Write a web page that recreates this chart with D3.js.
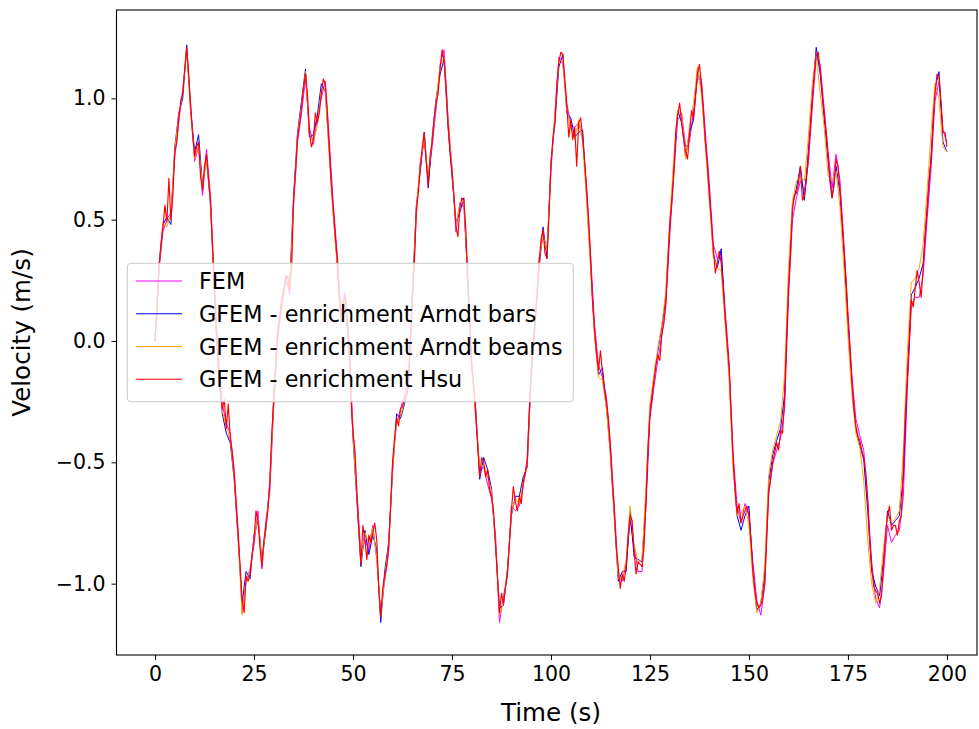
<!DOCTYPE html>
<html>
<head>
<meta charset="utf-8">
<script src="https://cdn.jsdelivr.net/npm/d3@7"></script>
<style>
  html, body { margin: 0; padding: 0; background: #ffffff; }
  svg { display: block; }
  text { font-family: "DejaVu Sans", sans-serif; fill: #000; }
</style>
</head>
<body>
<div id="chart"></div>
<script>
// ---- data ----
const timeHalf = d3.range(0, 200.25, 0.5);   // 0, 0.5, ... 200
const timeOne = d3.range(0, 201, 1);         // 0, 1, ... 200

const hsu = [
0.00,0.12,0.30,0.40,0.47,0.56,0.49,0.67,0.50,0.60,0.78,0.82,0.92,0.99,1.02,1.12,1.21,1.10,0.96,0.85,
0.76,0.80,0.82,0.68,0.62,0.72,0.77,0.67,0.58,0.40,0.22,0.02,-0.10,-0.20,-0.28,-0.24,-0.36,-0.26,-0.40,-0.46,
-0.55,-0.68,-0.80,-0.93,-1.07,-1.12,-0.97,-0.99,-0.96,-0.88,-0.82,-0.70,-0.74,-0.85,-0.93,-0.82,-0.76,-0.70,-0.58,-0.38,
-0.24,-0.08,0.03,0.10,0.16,0.20,0.25,0.27,0.21,0.30,0.58,0.70,0.84,0.89,0.96,1.04,1.10,1.02,0.86,0.80,
0.83,0.94,0.90,0.94,1.02,1.08,1.06,0.95,0.80,0.65,0.55,0.44,0.34,0.18,0.10,0.16,0.18,0.12,-0.02,-0.24,
-0.38,-0.45,-0.64,-0.78,-0.92,-0.76,-0.82,-0.90,-0.80,-0.83,-0.79,-0.75,-0.82,-1.02,-1.14,-1.02,-0.97,-0.93,-0.85,-0.68,
-0.50,-0.40,-0.32,-0.35,-0.28,-0.27,-0.24,-0.22,-0.17,0.00,0.18,0.32,0.54,0.61,0.72,0.80,0.86,0.74,0.64,0.77,
0.82,0.92,0.98,1.02,1.12,1.20,1.16,1.05,0.90,0.78,0.70,0.60,0.47,0.43,0.55,0.59,0.58,0.46,0.25,0.08,
-0.10,-0.18,-0.30,-0.43,-0.56,-0.48,-0.50,-0.56,-0.53,-0.61,-0.64,-0.70,-0.84,-0.98,-1.12,-1.04,-1.08,-1.02,-0.96,-0.84,
-0.70,-0.60,-0.66,-0.70,-0.64,-0.67,-0.58,-0.55,-0.50,-0.30,-0.14,-0.02,0.08,0.19,0.32,0.42,0.46,0.36,0.34,0.52,
0.72,0.84,0.90,1.06,1.15,1.19,1.18,1.08,0.97,0.84,0.91,0.83,0.88,0.72,0.90,0.92,0.84,0.74,0.62,0.50,
0.34,0.16,0.05,-0.05,-0.12,-0.04,-0.13,-0.20,-0.25,-0.32,-0.44,-0.58,-0.70,-0.85,-0.93,-1.02,-0.96,-0.99,-0.93,-0.80,
-0.72,-0.74,-0.87,-0.96,-0.91,-0.92,-0.93,-0.85,-0.66,-0.44,-0.30,-0.24,-0.17,-0.10,-0.06,-0.08,0.03,0.07,0.16,0.32,
0.48,0.57,0.68,0.86,0.93,0.98,0.90,0.84,0.78,0.75,0.86,0.95,0.92,1.00,1.10,1.14,1.06,0.95,0.82,0.73,
0.60,0.50,0.38,0.28,0.32,0.37,0.32,0.22,0.10,0.00,-0.11,-0.30,-0.48,-0.62,-0.71,-0.67,-0.75,-0.72,-0.70,-0.68,
-0.72,-0.82,-0.95,-1.03,-1.08,-1.10,-1.09,-1.06,-0.99,-0.80,-0.62,-0.56,-0.50,-0.46,-0.42,-0.45,-0.37,-0.38,-0.24,0.00,
0.22,0.36,0.54,0.60,0.61,0.65,0.72,0.58,0.60,0.66,0.76,0.88,0.99,1.10,1.18,1.19,1.12,1.02,0.94,0.86,
0.76,0.65,0.59,0.64,0.75,0.72,0.62,0.50,0.38,0.26,0.10,-0.03,-0.16,-0.28,-0.35,-0.39,-0.41,-0.45,-0.48,-0.54,
-0.65,-0.82,-0.93,-1.01,-1.03,-1.04,-1.08,-1.05,-0.92,-0.80,-0.72,-0.68,-0.78,-0.76,-0.76,-0.80,-0.74,-0.72,-0.52,-0.30,
-0.16,0.00,0.17,0.14,0.22,0.29,0.24,0.18,0.30,0.44,0.54,0.67,0.74,0.90,1.02,1.10,1.09,0.99,0.86,0.86,0.80];

const fem = [0.00,0.29,0.45,0.50,0.53,0.76,0.90,1.04,1.19,0.98,0.74,0.80,0.60,0.79,0.60,0.24,-0.08,-0.26,-0.34,-0.38,
-0.53,-0.78,-1.12,-0.99,-0.94,-0.84,-0.70,-0.94,-0.74,-0.62,-0.26,0.01,0.14,0.27,0.19,0.56,0.82,0.94,1.08,0.88,
0.81,0.92,1.00,1.07,0.83,0.57,0.36,0.12,0.20,0.00,-0.36,-0.62,-0.88,-0.82,-0.86,-0.76,-0.90,-1.12,-0.99,-0.87,
-0.50,-0.34,-0.28,-0.22,-0.15,0.16,0.52,0.74,0.82,0.67,0.80,0.96,1.14,1.20,0.92,0.72,0.45,0.57,0.55,0.27,
-0.08,-0.32,-0.53,-0.52,-0.59,-0.65,-0.80,-1.16,-1.05,-0.97,-0.68,-0.70,-0.68,-0.60,-0.48,-0.10,0.06,0.34,0.43,0.38,
0.70,0.94,1.17,1.14,0.98,0.89,0.88,0.90,0.83,0.64,0.36,0.07,-0.10,-0.15,-0.23,-0.42,-0.68,-0.97,-0.99,-0.91,
-0.74,-0.85,-0.95,-0.95,-0.68,-0.32,-0.19,-0.08,0.02,0.14,0.43,0.68,0.91,0.94,0.80,0.82,0.95,1.08,1.08,0.86,
0.65,0.40,0.34,0.36,0.13,-0.09,-0.46,-0.68,-0.75,-0.67,-0.72,-0.91,-1.07,-1.13,-1.01,-0.63,-0.51,-0.45,-0.40,-0.28,
0.18,0.50,0.59,0.66,0.62,0.73,0.96,1.17,1.14,0.96,0.78,0.63,0.77,0.66,0.40,0.12,-0.14,-0.32,-0.39,-0.45,
-0.66,-0.91,-1.06,-1.10,-0.96,-0.76,-0.83,-0.80,-0.78,-0.64,-0.20,0.14,0.18,0.18,0.27,0.50,0.71,0.99,1.07,0.87,
0.82];

const arndtBars = [0.00,0.31,0.48,0.51,0.48,0.80,0.94,1.00,1.22,0.95,0.78,0.85,0.64,0.76,0.56,0.20,-0.12,-0.30,-0.38,-0.42,
-0.57,-0.82,-1.08,-0.95,-0.98,-0.80,-0.74,-0.90,-0.78,-0.58,-0.22,0.05,0.17,0.24,0.23,0.60,0.86,0.99,1.12,0.84,
0.85,0.93,1.06,1.03,0.78,0.53,0.32,0.08,0.16,-0.04,-0.40,-0.66,-0.93,-0.78,-0.88,-0.80,-0.86,-1.16,-0.95,-0.83,
-0.54,-0.30,-0.32,-0.26,-0.19,0.20,0.56,0.70,0.86,0.63,0.84,1.00,1.10,1.16,0.88,0.68,0.49,0.53,0.59,0.23,
-0.12,-0.28,-0.57,-0.48,-0.53,-0.61,-0.84,-1.10,-1.09,-0.94,-0.72,-0.64,-0.64,-0.56,-0.52,-0.14,0.10,0.30,0.47,0.34,
0.74,0.90,1.13,1.18,0.94,0.92,0.84,0.86,0.87,0.60,0.32,0.03,-0.14,-0.11,-0.27,-0.46,-0.72,-0.99,-0.95,-0.95,
-0.70,-0.89,-0.90,-0.91,-0.64,-0.28,-0.15,-0.04,0.06,0.18,0.47,0.72,0.95,0.90,0.76,0.86,0.91,1.12,1.04,0.82,
0.61,0.36,0.30,0.38,0.09,-0.13,-0.50,-0.72,-0.78,-0.72,-0.68,-0.95,-1.11,-1.08,-0.97,-0.58,-0.47,-0.41,-0.36,-0.22,
0.24,0.56,0.63,0.72,0.58,0.78,1.01,1.21,1.10,0.92,0.74,0.59,0.72,0.61,0.36,0.08,-0.18,-0.36,-0.43,-0.49,
-0.70,-0.95,-1.01,-1.05,-0.90,-0.70,-0.76,-0.74,-0.72,-0.56,-0.14,0.19,0.22,0.26,0.32,0.55,0.76,1.04,1.11,0.82,
0.78];

const arndtBeams = [0.00,0.30,0.49,0.47,0.52,0.79,0.93,1.03,1.20,0.94,0.75,0.81,0.63,0.75,0.57,0.21,-0.11,-0.29,-0.35,-0.41,
-0.56,-0.81,-1.13,-0.98,-0.95,-0.81,-0.73,-0.91,-0.77,-0.59,-0.25,0.04,0.18,0.26,0.22,0.57,0.85,0.97,1.11,0.85,
0.82,0.89,1.03,1.04,0.76,0.52,0.31,0.09,0.17,-0.03,-0.39,-0.65,-0.91,-0.79,-0.83,-0.77,-0.89,-1.13,-0.98,-0.84,
-0.53,-0.33,-0.31,-0.25,-0.16,0.19,0.55,0.73,0.83,0.68,0.83,0.99,1.13,1.17,0.91,0.71,0.48,0.56,0.58,0.26,
-0.11,-0.31,-0.52,-0.51,-0.56,-0.62,-0.83,-1.13,-1.08,-0.95,-0.71,-0.65,-0.67,-0.59,-0.51,-0.13,0.09,0.33,0.44,0.37,
0.73,0.93,1.16,1.15,0.95,0.88,0.83,0.91,0.82,0.58,0.30,0.02,-0.15,-0.16,-0.28,-0.47,-0.73,-0.98,-0.98,-0.90,
-0.68,-0.84,-0.91,-0.90,-0.60,-0.26,-0.14,-0.03,0.07,0.20,0.50,0.75,0.95,0.93,0.75,0.88,0.98,1.13,1.02,0.80,
0.58,0.35,0.30,0.29,0.07,-0.16,-0.53,-0.72,-0.71,-0.68,-0.76,-0.98,-1.12,-1.08,-0.92,-0.55,-0.45,-0.39,-0.33,-0.14,
0.30,0.58,0.66,0.68,0.66,0.84,1.06,1.18,1.02,0.88,0.68,0.66,0.70,0.55,0.30,0.02,-0.22,-0.38,-0.44,-0.58,
-0.82,-1.00,-1.08,-1.02,-0.85,-0.72,-0.75,-0.73,-0.70,-0.45,-0.05,0.24,0.26,0.30,0.40,0.62,0.86,1.06,1.00,0.80,
0.78];

const seriesNames = ["FEM", "GFEM - enrichment Arndt bars", "GFEM - enrichment Arndt beams", "GFEM - enrichment Hsu"];
const seriesColors = ["#ff00ff", "#0000ff", "#ffa500", "#ff0000"];
const seriesValues = [fem, arndtBars, arndtBeams, hsu];
const seriesTimes = [timeOne, timeOne, timeOne, timeHalf];
const seriesWidths = [1.0, 1.0, 1.0, 1.15];

const xTicks = [0, 25, 50, 75, 100, 125, 150, 175, 200];
const yTicks = [-1.0, -0.5, 0.0, 0.5, 1.0];

// ---- layout ----
const W = 979, H = 729;
const L = 116.5, R = 977, T = 10, B = 655;

const svg = d3.select("#chart").append("svg")
  .attr("width", W).attr("height", H)
  .attr("viewBox", `0 0 ${W} ${H}`);

const x = d3.scaleLinear().domain([-9.73, 207.6]).range([L, R]);
const y = d3.scaleLinear().domain([-1.294, 1.364]).range([B, T]);

svg.append("clipPath").attr("id", "plotclip")
  .append("rect").attr("x", L).attr("y", T).attr("width", R - L).attr("height", B - T);

const plot = svg.append("g").attr("clip-path", "url(#plotclip)");
seriesValues.forEach((vals, k) => {
  const tArr = seriesTimes[k];
  const line = d3.line().x((d, i) => x(tArr[i])).y(d => y(d));
  plot.append("path")
    .datum(vals)
    .attr("fill", "none")
    .attr("stroke", seriesColors[k])
    .attr("stroke-width", seriesWidths[k])
    .attr("stroke-linejoin", "round")
    .attr("d", line);
});

// axes
const fmt = d => (d < 0 ? "\u2212" : "") + Math.abs(d).toFixed(1);
const xAxis = svg.append("g").attr("transform", `translate(0,${B})`)
  .call(d3.axisBottom(x).tickValues(xTicks).tickSize(5).tickPadding(6).tickFormat(d3.format("d")));
const yAxis = svg.append("g").attr("transform", `translate(${L},0)`)
  .call(d3.axisLeft(y).tickValues(yTicks).tickSize(5).tickPadding(6).tickFormat(fmt));
[xAxis, yAxis].forEach(a => {
  a.select(".domain").remove();
  a.selectAll(".tick line").attr("stroke", "#000").attr("stroke-width", 1);
  a.selectAll(".tick text").attr("font-family", "DejaVu Sans").attr("font-size", 20.5).attr("fill", "#000");
});
xAxis.selectAll(".tick text").attr("dy", "0.75em");

// frame
svg.append("rect").attr("x", L).attr("y", T).attr("width", R - L).attr("height", B - T)
  .attr("fill", "none").attr("stroke", "#000").attr("stroke-width", 1.1);

// axis labels
svg.append("text").attr("x", (155.5 + 946.5) / 2).attr("y", 721)
  .attr("text-anchor", "middle").attr("font-size", 24.6).text("Time (s)");
svg.append("text").attr("transform", `translate(30,${(T + B) / 2}) rotate(-90)`)
  .attr("text-anchor", "middle").attr("font-size", 24.6).text("Velocity (m/s)");

// legend
const lg = svg.append("g");
lg.append("rect").attr("x", 127.3).attr("y", 263.3).attr("width", 446).attr("height", 138.4)
  .attr("rx", 4).attr("ry", 4)
  .attr("fill", "#ffffff").attr("fill-opacity", 0.8)
  .attr("stroke", "#cccccc").attr("stroke-width", 1.1);
seriesNames.forEach((name, k) => {
  const yy = 281 + k * 32.75;
  lg.append("line").attr("x1", 136).attr("x2", 182).attr("y1", yy).attr("y2", yy)
    .attr("stroke", seriesColors[k]).attr("stroke-width", 1.0);
  lg.append("text").attr("x", 199).attr("y", yy).attr("dy", "0.36em")
    .attr("font-size", 22.3).text(name);
});
</script>
</body>
</html>
